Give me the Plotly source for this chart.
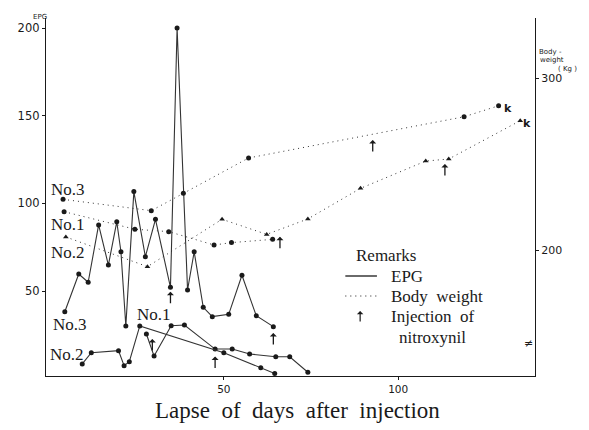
import plotly.graph_objects as go

# ---------------- data ----------------
# EPG (eggs per gram), solid lines
epg3_days = [4.4, 8.4, 11.1, 14.1, 16.9, 19.3, 20.5, 21.9, 24.2, 27.5, 30.4, 34.7,
             36.6, 39.6, 41.5, 44.1, 46.7, 51.4, 55.2, 59.3, 64.2]
epg3_vals = [38.2, 59.7, 55.0, 87.7, 64.8, 89.5, 72.4, 30.1, 106.7, 69.6, 90.9, 52.1,
             200.0, 50.6, 72.4, 40.7, 35.4, 36.7, 59.0, 35.9, 29.7]

epg1_days = [27.8, 30.0, 34.9, 38.7, 47.5, 52.4, 57.4, 64.9, 68.9, 74.1]
epg1_vals = [25.5, 12.9, 30.2, 30.6, 16.9, 16.9, 14.1, 12.5, 12.5, 3.7]

epg2_days = [9.4, 12.0, 19.8, 21.4, 22.9, 25.9, 50.0, 60.6, 64.6]
epg2_vals = [8.4, 14.8, 16.0, 7.4, 9.7, 30.1, 14.8, 6.3, 3.0]

# Body weight (kg), dotted lines
bw3_days = [3.9, 29.2, 38.4, 57.1, 118.9, 128.8]
bw3_vals = [229.5, 222.9, 233.0, 253.6, 277.6, 284.0]

bw1_days = [4.2, 24.5, 34.2, 47.2, 52.2, 64.0]
bw1_vals = [222.3, 212.1, 210.7, 202.9, 204.3, 206.2]

bw2_days = [4.7, 28.1, 49.5, 62.3, 74.1, 89.2, 107.9, 114.5, 135.0]
bw2_vals = [207.6, 190.3, 217.9, 209.1, 218.1, 235.9, 251.8, 253.0, 275.3]

# injections of nitroxynil: (day, EPG-scale position of arrow tip)
inj_days = [34.7, 29.5, 47.5, 64.2, 66.1, 92.7, 113.4]
inj_tip = [49.6, 22.6, 12.6, 26.1, 81.0, 136.1, 122.4]

# killed marks
kill_days = [131.6, 137.0]
kill_pos = [154.0, 145.5]

x_ticks = [50, 100]
epg_ticks = [50, 100, 150, 200]
bw_ticks = [200, 300]

# ---------------- layout geometry ----------------
OFF = 8                       # page body margin of the html page
W, H = 589 - OFF, 430 - OFF
PX0, PX1 = 40, 535            # plot area in reference pixels
PY0, PY1 = 18, 376
L, R, T, B = PX0 - OFF, W - (PX1 - OFF), PY0 - OFF, H - (PY1 - OFF)


def px(x):
    return (x - PX0) / (PX1 - PX0)


def py(y):
    return (PY1 - y) / (PY1 - PY0)


INK = "#1a1a1a"
LINE = "#333333"
SERIF = "Liberation Serif"
SANS = "DejaVu Sans"

fig = go.Figure()


def epg_trace(d, v):
    fig.add_trace(go.Scatter(
        x=d, y=v, mode="lines+markers",
        line=dict(color=LINE, width=1.1),
        marker=dict(color=INK, size=5, symbol="circle"),
        showlegend=False, hoverinfo="skip"))


def bw_trace(d, v, sym):
    fig.add_trace(go.Scatter(
        x=d, y=v, mode="lines+markers", yaxis="y2",
        line=dict(color=LINE, width=1, dash="1px,4px"),
        marker=dict(color=INK, size=5, symbol=sym),
        showlegend=False, hoverinfo="skip"))


epg_trace(epg3_days, epg3_vals)
epg_trace(epg1_days, epg1_vals)
epg_trace(epg2_days, epg2_vals)
bw_trace(bw3_days, bw3_vals, "circle")
bw_trace(bw1_days, bw1_vals, "circle")
bw_trace(bw2_days, bw2_vals, "triangle-up")

ann = []
# injection arrows
for d, t in zip(inj_days, inj_tip):
    ann.append(dict(x=d, y=t, xref="x", yref="y", ax=0, ay=13, text="",
                    showarrow=True, arrowhead=1, arrowsize=0.9, arrowwidth=1.3,
                    arrowcolor=INK))
# killed marks
for d, t in zip(kill_days, kill_pos):
    ann.append(dict(x=d, y=t, xref="x", yref="y", text="<b>k</b>", showarrow=False,
                    font=dict(family=SANS, size=11, color=INK)))

# series labels
labels = [("No.3", 62, 189), ("No.1", 62, 224), ("No.2", 62, 252),
          ("No.3", 64, 324), ("No.1", 149, 314), ("No.2", 61, 354)]
for txt, x, y in labels:
    ann.append(dict(x=px(x), y=py(y), xref="paper", yref="paper", text=txt,
                    showarrow=False, font=dict(family=SERIF, size=17, color=INK),
                    xanchor="center", yanchor="middle"))

# axis titles
ann.append(dict(x=px(25), y=py(11), xref="paper", yref="paper", text="EPG",
                showarrow=False, font=dict(family=SANS, size=7, color=INK)))
for txt, x, y in [("Body -", 537, 52), ("weight", 538, 60), ("( Kg )", 556, 69)]:
    ann.append(dict(x=px(x), y=py(y), xref="paper", yref="paper", text=txt,
                    showarrow=False, xanchor="left", yanchor="middle",
                    font=dict(family=SANS, size=7, color=INK)))
# axis break
ann.append(dict(x=px(PX1), y=py(352), xref="paper", yref="paper", text="≠",
                showarrow=False, font=dict(family=SANS, size=11, color=INK)))

# x-axis title
sp = "\u00a0 "
ann.append(dict(x=px(295), y=py(410), xref="paper", yref="paper",
                text=sp.join(["Lapse", "of", "days", "after", "injection"]),
                showarrow=False, font=dict(family=SERIF, size=23, color=INK),
                xanchor="center", yanchor="middle"))

# legend (Remarks)
LF = dict(family=SERIF, size=17, color=INK)
ann += [
    dict(x=px(384), y=py(255), xref="paper", yref="paper", text="Remarks",
         showarrow=False, font=LF, xanchor="center", yanchor="middle"),
    dict(x=px(387), y=py(276), xref="paper", yref="paper", text="EPG",
         showarrow=False, font=LF, xanchor="left", yanchor="middle"),
    dict(x=px(387), y=py(296), xref="paper", yref="paper", text="Body\u00a0 weight",
         showarrow=False, font=LF, xanchor="left", yanchor="middle"),
    dict(x=px(387), y=py(316), xref="paper", yref="paper", text="Injection\u00a0 of",
         showarrow=False, font=LF, xanchor="left", yanchor="middle"),
    dict(x=px(395), y=py(337), xref="paper", yref="paper", text="nitroxynil",
         showarrow=False, font=LF, xanchor="left", yanchor="middle"),
    dict(x=px(358), y=py(311), xref="paper", yref="paper", ax=0, ay=12, text="",
         showarrow=True, arrowhead=1, arrowsize=0.9, arrowwidth=1.2, arrowcolor=INK),
]

shapes = [
    dict(type="line", xref="paper", yref="paper", x0=px(343), x1=px(375),
         y0=py(276), y1=py(276), line=dict(color=INK, width=1.3)),
    dict(type="line", xref="paper", yref="paper", x0=px(343), x1=px(375),
         y0=py(296), y1=py(296), line=dict(color=INK, width=1, dash="1px,4px")),
]

axis_common = dict(showgrid=False, zeroline=False, showline=True, linecolor=INK,
                   linewidth=1.3, ticks="outside", ticklen=3, tickcolor=INK,
                   tickfont=dict(family=SANS, size=11.5, color=INK))

fig.update_layout(
    width=W, height=H,
    margin=dict(l=L, r=R, t=T, b=B),
    plot_bgcolor="white", paper_bgcolor="white",
    xaxis=dict(range=[(PX0 - 43.5) / 3.53, (PX1 - 43.5) / 3.53], tickvals=x_ticks,
               **{**axis_common, "tickfont": dict(family=SANS, size=10.5, color=INK)}),
    yaxis=dict(range=[(378.7 - PY1) / 1.7533, (378.7 - PY0) / 1.7533],
               tickvals=epg_ticks, **axis_common),
    yaxis2=dict(range=[200 + (250 - PY1) / 1.717, 200 + (250 - PY0) / 1.717],
                tickvals=bw_ticks, overlaying="y", side="right",
                **{**axis_common, "tickfont": dict(family=SANS, size=11, color=INK)}),
    annotations=ann, shapes=shapes, showlegend=False,
)

fig.write_html("out.html")
